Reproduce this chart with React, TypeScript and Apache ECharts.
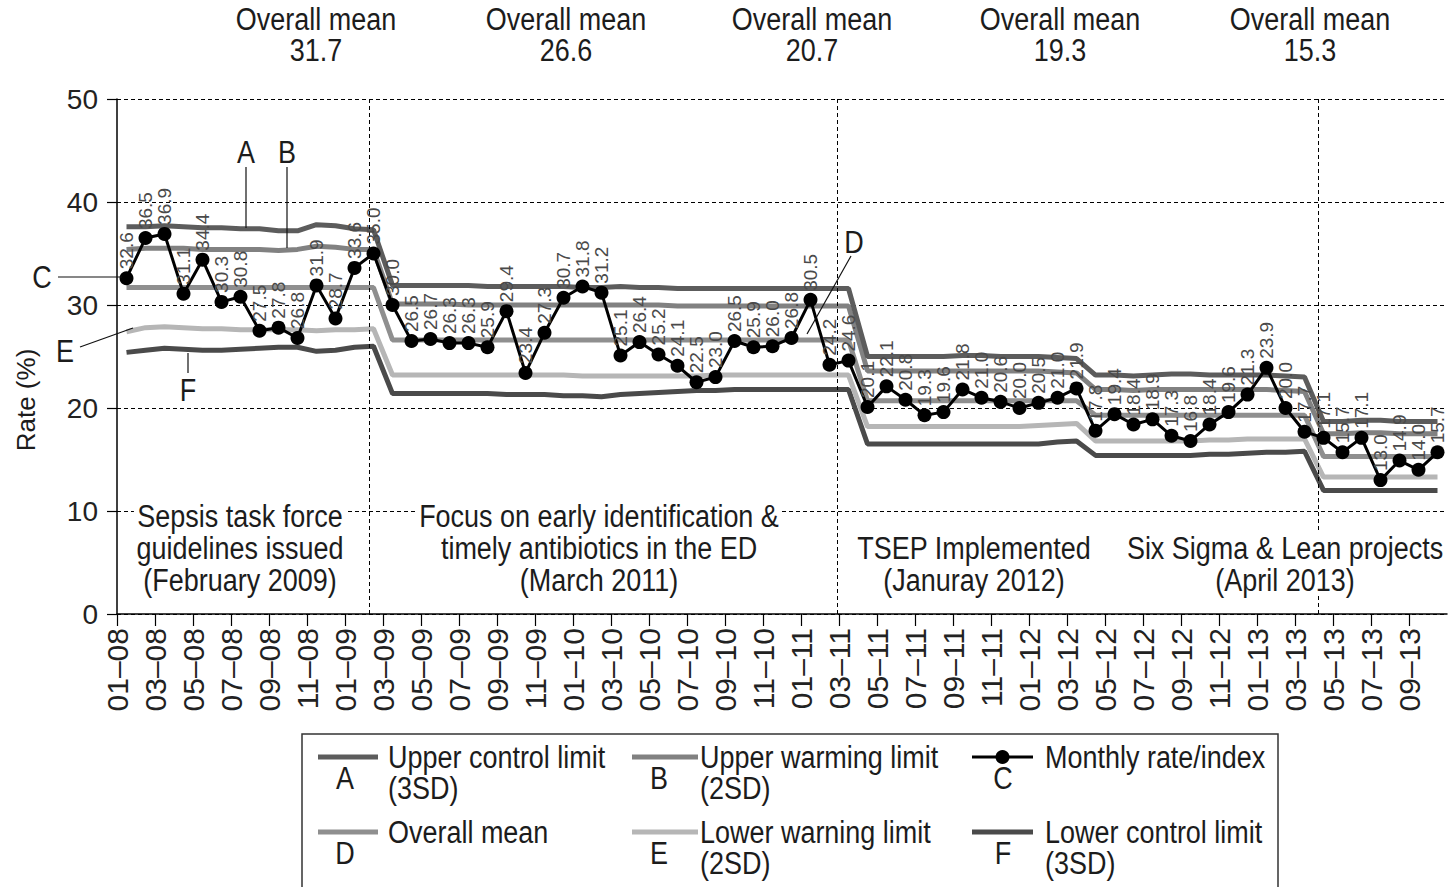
import React, { useEffect, useRef } from "react";
import * as echarts from "echarts";

const SANS = '"Liberation Sans", Arial, sans-serif';

// x-axis tick labels (every second month, at month boundaries)
const tickLabels = [
  "01–08", "03–08", "05–08", "07–08", "09–08", "11–08",
  "01–09", "03–09", "05–09", "07–09", "09–09", "11–09",
  "01–10", "03–10", "05–10", "07–10", "09–10", "11–10",
  "01–11", "03–11", "05–11", "07–11", "09–11", "11–11",
  "01–12", "03–12", "05–12", "07–12", "09–12", "11–12",
  "01–13", "03–13", "05–13", "07–13", "09–13",
];

// Monthly rate/index (C), Jan 2008 – Oct 2013
const rate = [
  32.6, 36.5, 36.9, 31.1, 34.4, 30.3, 30.8, 27.5, 27.8, 26.8, 31.9, 28.7, 33.6, 35.0,
  30.0, 26.5, 26.7, 26.3, 26.3, 25.9, 29.4, 23.4, 27.3, 30.7, 31.8, 31.2, 25.1, 26.4, 25.2, 24.1, 22.5, 23.0, 26.5, 25.9, 26.0, 26.8, 30.5, 24.2, 24.6,
  20.1, 22.1, 20.8, 19.3, 19.6, 21.8, 21.0, 20.6, 20.0, 20.5, 21.0, 21.9,
  17.8, 19.4, 18.4, 18.9, 17.3, 16.8, 18.4, 19.6, 21.3, 23.9, 20.0, 17.7,
  17.1, 15.7, 17.1, 13.0, 14.9, 14.0, 15.7,
];

// Upper control limit (A)
const ucl = [
  37.6, 37.6, 37.7, 37.6, 37.5, 37.5, 37.4, 37.4, 37.2, 37.2, 37.8, 37.7, 37.4, 37.3,
  31.9, 31.9, 31.9, 31.9, 31.9, 31.8, 31.8, 31.8, 31.8, 31.8, 31.7, 31.7, 31.8, 31.7, 31.7, 31.6, 31.6, 31.6, 31.6, 31.6, 31.6, 31.6, 31.6, 31.6, 31.6,
  25.0, 25.0, 25.0, 25.0, 25.0, 25.1, 25.1, 25.0, 25.0, 25.0, 24.9, 24.8,
  23.2, 23.2, 23.1, 23.2, 23.3, 23.3, 23.2, 23.2, 23.2, 23.2, 23.1, 23.0,
  18.7, 18.7, 18.8, 18.8, 18.7, 18.7, 18.7,
];

// Upper warning limit (B)
const uwl = [
  35.4, 35.5, 35.5, 35.5, 35.4, 35.4, 35.4, 35.4, 35.3, 35.4, 35.7, 35.6, 35.4, 35.4,
  30.1, 30.1, 30.1, 30.1, 30.0, 30.0, 30.0, 30.0, 30.0, 30.0, 30.0, 30.0, 30.0, 30.0, 30.0, 29.9, 29.9, 29.9, 29.9, 29.9, 29.9, 29.9, 29.9, 29.9, 29.9,
  23.6, 23.6, 23.6, 23.6, 23.6, 23.6, 23.6, 23.6, 23.6, 23.6, 23.5, 23.4,
  21.8, 21.8, 21.7, 21.8, 21.8, 21.8, 21.8, 21.8, 21.8, 21.8, 21.7, 21.6,
  17.5, 17.5, 17.6, 17.6, 17.5, 17.5, 17.5,
];

// Overall mean (D)
const mean = [
  31.7, 31.7, 31.7, 31.7, 31.7, 31.7, 31.7, 31.7, 31.7, 31.7, 31.7, 31.7, 31.7, 31.7,
  26.6, 26.6, 26.6, 26.6, 26.6, 26.6, 26.6, 26.6, 26.6, 26.6, 26.6, 26.6, 26.6, 26.6, 26.6, 26.6, 26.6, 26.6, 26.6, 26.6, 26.6, 26.6, 26.6, 26.6, 26.6,
  20.7, 20.7, 20.7, 20.7, 20.7, 20.7, 20.7, 20.7, 20.7, 20.7, 20.7, 20.7,
  19.3, 19.3, 19.3, 19.3, 19.3, 19.3, 19.3, 19.3, 19.3, 19.3, 19.3, 19.3,
  15.3, 15.3, 15.3, 15.3, 15.3, 15.3, 15.3,
];

// Lower warning limit (E)
const lwl = [
  27.4, 27.8, 27.9, 27.8, 27.7, 27.7, 27.6, 27.6, 27.6, 27.6, 27.5, 27.6, 27.6, 27.7,
  23.2, 23.2, 23.2, 23.2, 23.2, 23.2, 23.2, 23.2, 23.2, 23.2, 23.1, 23.1, 23.1, 23.1, 23.1, 23.1, 23.1, 23.2, 23.2, 23.2, 23.2, 23.2, 23.2, 23.2, 23.2,
  18.2, 18.2, 18.2, 18.2, 18.2, 18.2, 18.2, 18.2, 18.2, 18.3, 18.4, 18.5,
  16.8, 16.8, 16.8, 16.8, 16.8, 16.8, 16.9, 16.9, 17.0, 17.0, 17.0, 17.0,
  13.3, 13.3, 13.3, 13.3, 13.3, 13.3, 13.3,
];

// Lower control limit (F)
const lcl = [
  25.4, 25.6, 25.8, 25.7, 25.6, 25.6, 25.7, 25.8, 25.9, 25.9, 25.5, 25.6, 25.9, 26.0,
  21.4, 21.4, 21.4, 21.4, 21.4, 21.4, 21.3, 21.3, 21.3, 21.2, 21.2, 21.1, 21.3, 21.4, 21.5, 21.6, 21.7, 21.7, 21.8, 21.8, 21.8, 21.8, 21.8, 21.8, 21.8,
  16.5, 16.5, 16.5, 16.5, 16.5, 16.5, 16.5, 16.5, 16.5, 16.5, 16.7, 16.8,
  15.4, 15.4, 15.4, 15.4, 15.4, 15.4, 15.5, 15.5, 15.6, 15.7, 15.7, 15.8,
  12.0, 12.0, 12.0, 12.0, 12.0, 12.0, 12.0,
];

// Phase-change markers (month index on the x axis)
const phaseLines = [13.3, 37.9, 63.2];

// Header "Overall mean" values
const headerMeans = ["31.7", "26.6", "20.7", "19.3", "15.3"];

const phaseNotes = [
  "Sepsis task force\nguidelines issued\n(February 2009)",
  "Focus on early identification &\ntimely antibiotics in the ED\n(March 2011)",
  "TSEP Implemented\n(Januray 2012)",
  "Six Sigma & Lean projects\n(April 2013)",
];

const legendItems = [
  { letter: "A", text: "Upper control limit\n(3SD)" },
  { letter: "B", text: "Upper warming limit\n(2SD)" },
  { letter: "C", text: "Monthly rate/index" },
  { letter: "D", text: "Overall mean" },
  { letter: "E", text: "Lower warning limit\n(2SD)" },
  { letter: "F", text: "Lower control limit\n(3SD)" },
];

const COLORS = {
  A: "#5c5c5c",
  B: "#818181",
  C: "#000000",
  D: "#8f8f8f",
  E: "#b6b6b6",
  F: "#4a4a4a",
};

const SQUEEZE = 0.87;

function txt(x: number, y: number, text: string, extra: any = {}) {
  return {
    type: "text",
    x,
    y,
    z: 100,
    silent: true,
    rotation: extra.rotation || 0,
    scaleX: extra.scaleX ?? SQUEEZE,
    style: {
      text,
      fill: "#1c1c1c",
      fontSize: 31,
      fontFamily: SANS,
      align: extra.align || "center",
      textAlign: extra.align || "center",
      verticalAlign: "middle",
      textVerticalAlign: "middle",
      lineHeight: extra.lineHeight || 32,
      ...(extra.style || {}),
    },
  };
}

function seg(x1: number, y1: number, x2: number, y2: number, color = "#111", width = 1.2) {
  return {
    type: "line",
    z: 100,
    silent: true,
    shape: { x1, y1, x2, y2 },
    style: { stroke: color, lineWidth: width },
  };
}

export default function App() {
  const ref = useRef<HTMLDivElement>(null);

  useEffect(() => {
    if (!ref.current) return;
    const chart = echarts.init(ref.current, null, { renderer: "svg" });
    const xy = (arr: number[]) => arr.map((v, i) => [i + 0.5, v]);

    const limit = (name: string, data: number[], color: string, z: number) => ({
      name,
      type: "line",
      data: xy(data),
      symbol: "none",
      silent: true,
      z,
      lineStyle: { color, width: 5 },
      emphasis: { disabled: true },
    });

    const graphic: any[] = [];

    // header
    const headerX = [316, 566, 812, 1060, 1310];
    headerMeans.forEach((m, i) => {
      graphic.push(txt(headerX[i], 35, "Overall mean\n" + m, { lineHeight: 31 }));
    });

    // phase notes
    const noteXY = [
      [240, 548],
      [599, 548],
      [974, 564],
      [1285, 564],
    ];
    phaseNotes.forEach((n, i) => {
      graphic.push(
        txt(noteXY[i][0], noteXY[i][1], n, {
          style: { backgroundColor: "#ffffff", padding: [0, 3] },
        })
      );
    });

    // y-axis title
    graphic.push(
      txt(26, 400, "Rate (%)", {
        rotation: Math.PI / 2,
        scaleX: 1,
        style: { fontSize: 26 },
      })
    );

    // in-plot letter callouts
    graphic.push(txt(246, 152, "A"), seg(246, 167, 246, 228));
    graphic.push(txt(287, 152, "B"), seg(287, 167, 287, 248));
    graphic.push(txt(42, 277, "C"), seg(58, 277, 122, 277));
    graphic.push(txt(65, 351, "E"), seg(80, 347, 133, 328));
    graphic.push(txt(188, 390, "F"), seg(188, 353, 188, 373));
    graphic.push(txt(854, 242, "D"), seg(851, 256, 807, 334));

    // legend box
    graphic.push({
      type: "rect",
      z: 99,
      silent: true,
      shape: { x: 302, y: 734, width: 976, height: 170 },
      style: { fill: "#ffffff", stroke: "#333", lineWidth: 1.5 },
    });
    const colX = [[318, 378, 388, 345], [632, 698, 700, 659], [972, 1033, 1045, 1003]];
    const rowY = [757, 832];
    legendItems.forEach((it, i) => {
      const c = colX[i % 3];
      const y = rowY[Math.floor(i / 3)];
      const color = (COLORS as any)[it.letter];
      if (it.letter === "C") {
        graphic.push(seg(c[0], y, c[1], y, "#000", 3));
        graphic.push({
          type: "circle",
          z: 101,
          silent: true,
          shape: { cx: (c[0] + c[1]) / 2, cy: y, r: 7 },
          style: { fill: "#000" },
        });
      } else {
        graphic.push(seg(c[0], y, c[1], y, color, 5));
      }
      graphic.push(txt(c[3], y + 21, it.letter));
      const twoLine = it.text.indexOf("\n") >= 0;
      graphic.push(txt(c[2], twoLine ? y + 15.5 : y, it.text, { align: "left", lineHeight: 31 }));
    });

    const option: any = {
      animation: false,
      backgroundColor: "#ffffff",
      grid: { left: 117, top: 99, right: 5, bottom: 273, containLabel: false },
      xAxis: {
        type: "value",
        min: 0,
        max: 70,
        interval: 2,
        axisLine: { show: true, lineStyle: { color: "#000", width: 1.5 } },
        axisTick: { show: true, length: 12, lineStyle: { color: "#000", width: 1.2 } },
        splitLine: { show: false },
        axisLabel: {
          rotate: 90,
          fontSize: 30,
          fontFamily: SANS,
          color: "#222",
          margin: 14,
          showMaxLabel: false,
          formatter: (v: number) => tickLabels[Math.round(v / 2)] ?? "",
        },
      },
      yAxis: {
        type: "value",
        min: 0,
        max: 50,
        interval: 10,
        axisLine: { show: true, lineStyle: { color: "#000", width: 1.5 } },
        axisTick: { show: true, length: 10, lineStyle: { color: "#000", width: 1.2 } },
        splitLine: { show: true, lineStyle: { color: "#000", width: 1, type: [4, 3] } },
        axisLabel: { fontSize: 28, fontFamily: SANS, color: "#222", margin: 19 },
      },
      series: [
        limit("Lower control limit", lcl, COLORS.F, 2),
        limit("Lower warning limit", lwl, COLORS.E, 2),
        limit("Overall mean", mean, COLORS.D, 2),
        limit("Upper warning limit", uwl, COLORS.B, 2),
        limit("Upper control limit", ucl, COLORS.A, 2),
        {
          name: "Monthly rate/index",
          type: "line",
          data: xy(rate),
          z: 5,
          symbol: "circle",
          symbolSize: 14,
          itemStyle: { color: "#000" },
          lineStyle: { color: "#000", width: 3 },
          emphasis: { disabled: true },
          label: {
            show: true,
            position: "top",
            rotate: 90,
            align: "left",
            verticalAlign: "middle",
            distance: 2,
            fontSize: 19,
            fontFamily: SANS,
            color: "#4a4a4a",
            formatter: (p: any) => Number(p.value[1]).toFixed(1),
          },
          markLine: {
            silent: true,
            symbol: ["none", "none"],
            label: { show: false },
            lineStyle: { color: "#000", width: 1, type: [4, 3] },
            emphasis: { disabled: true },
            data: phaseLines.map((x) => ({ xAxis: x })),
          },
        },
      ],
      graphic: { elements: graphic },
    };

    chart.setOption(option);
    return () => chart.dispose();
  }, []);

  return (
    <div
      ref={ref}
      style={{ position: "absolute", left: 0, top: 0, width: 1452, height: 887, background: "#fff" }}
    />
  );
}
